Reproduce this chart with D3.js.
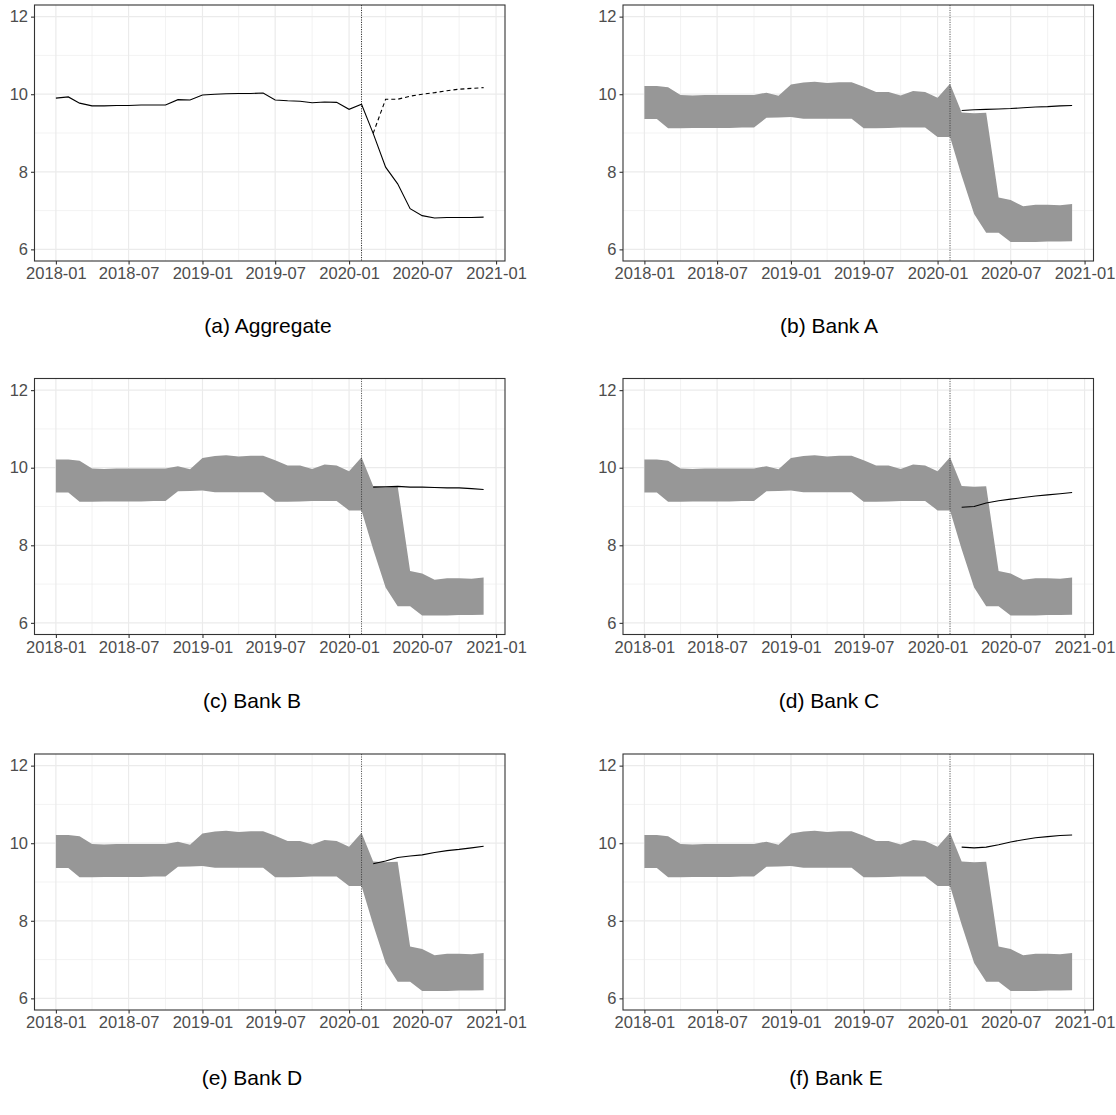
<!DOCTYPE html>
<html>
<head>
<meta charset="utf-8">
<script src="https://cdn.jsdelivr.net/npm/d3@7"></script>
<style>
  body { margin: 0; background: #fff; }
  svg { display: block; }
  text { font-family: "Liberation Sans", Arial, Helvetica, sans-serif; }
</style>
</head>
<body>
<svg id="chart" width="1116" height="1115"></svg>
<script>
// Monthly observation dates
const months = [
  "2018-01","2018-02","2018-03","2018-04","2018-05","2018-06","2018-07","2018-08","2018-09","2018-10","2018-11","2018-12",
  "2019-01","2019-02","2019-03","2019-04","2019-05","2019-06","2019-07","2019-08","2019-09","2019-10","2019-11","2019-12",
  "2020-01","2020-02","2020-03","2020-04","2020-05","2020-06","2020-07","2020-08","2020-09","2020-10","2020-11","2020-12"
];
// Post-shock months (simulated paths)
const postMonths = ["2020-03","2020-04","2020-05","2020-06","2020-07","2020-08","2020-09","2020-10","2020-11","2020-12"];

// Aggregate observed series
const aggregateActual = [
  9.90, 9.93, 9.77, 9.70, 9.70, 9.71, 9.71, 9.72, 9.72, 9.72, 9.86, 9.85,
  9.98, 10.00, 10.01, 10.02, 10.02, 10.03, 9.85, 9.83, 9.82, 9.78, 9.80, 9.79,
  9.61, 9.74, 8.99, 8.12, 7.69, 7.05, 6.87, 6.81, 6.82, 6.82, 6.82, 6.83
];
// Aggregate counterfactual path
const aggregateCounterfactual = [8.99, 9.87, 9.87, 9.95, 10.00, 10.04, 10.09, 10.13, 10.15, 10.17];

// Range across banks (shaded band)
const bandUpper = [
  10.21, 10.21, 10.18, 9.98, 9.97, 9.98, 9.98, 9.98, 9.98, 9.98, 10.04, 9.96,
  10.25, 10.30, 10.32, 10.29, 10.31, 10.31, 10.19, 10.06, 10.06, 9.97, 10.08, 10.06,
  9.91, 10.27, 9.53, 9.51, 9.52, 7.34, 7.27, 7.11, 7.15, 7.15, 7.14, 7.17
];
const bandLower = [
  9.36, 9.36, 9.12, 9.12, 9.13, 9.13, 9.13, 9.13, 9.14, 9.14, 9.39, 9.40,
  9.41, 9.37, 9.37, 9.37, 9.37, 9.37, 9.12, 9.12, 9.13, 9.14, 9.14, 9.14,
  8.90, 8.90, 7.90, 6.91, 6.43, 6.43, 6.19, 6.19, 6.19, 6.20, 6.20, 6.21
];

// Individual bank counterfactual paths
const bankA = [9.58, 9.60, 9.61, 9.62, 9.63, 9.65, 9.67, 9.68, 9.70, 9.71];
const bankB = [9.50, 9.51, 9.52, 9.50, 9.50, 9.49, 9.48, 9.48, 9.46, 9.44];
const bankC = [8.98, 9.00, 9.09, 9.15, 9.19, 9.23, 9.27, 9.30, 9.33, 9.36];
const bankD = [9.47, 9.54, 9.63, 9.67, 9.70, 9.76, 9.81, 9.84, 9.88, 9.92];
const bankE = [9.90, 9.88, 9.90, 9.96, 10.03, 10.09, 10.14, 10.17, 10.20, 10.21];

const shockMonth = "2020-02";
const xTickLabels = ["2018-01","2018-07","2019-01","2019-07","2020-01","2020-07","2021-01"];
const xMinorLabels = ["2017-10","2018-04","2018-10","2019-04","2019-10","2020-04","2020-10","2021-04"];
const yTicks = [6, 8, 10, 12];
const yMinor = [7, 9, 11];
const captions = ["(a) Aggregate", "(b) Bank A", "(c) Bank B", "(d) Bank C", "(e) Bank D", "(f) Bank E"];

const parse = d3.utcParse("%Y-%m");
const svg = d3.select("#chart");

const panelW = 470.5, panelH = 256;
const colX = [34.5, 623];
const rowY = [5, 378.5, 754];
const captionY = [333, 708, 1085];
const captionX = [268, 829, 252, 829, 252, 836];

// x domain: data span with 5% padding on each side
const t0 = parse(months[0]), t1 = parse(months[months.length - 1]);
const pad = (t1 - t0) * 0.05;
const x = d3.scaleUtc().domain([new Date(+t0 - pad), new Date(+t1 + pad)]).range([0, panelW]);
const y = d3.scaleLinear().domain([5.7, 12.3]).range([panelH, 0]);

const line = d3.line().x(d => x(d.date)).y(d => y(d.value));
const area = d3.area().x(d => x(d.date)).y0(d => y(d.lo)).y1(d => y(d.hi));

const aggSeries = months.map((m, i) => ({ date: parse(m), value: aggregateActual[i] }));
const cfSeries = postMonths.map((m, i) => ({ date: parse(m), value: aggregateCounterfactual[i] }));
const bandSeries = months.map((m, i) => ({ date: parse(m), lo: bandLower[i], hi: bandUpper[i] }));
const banks = [bankA, bankB, bankC, bankD, bankE];

function drawPanel(idx) {
  const col = idx % 2, row = Math.floor(idx / 2);
  const g = svg.append("g").attr("transform", `translate(${colX[col]},${rowY[row]})`);

  const clipId = "clip" + idx;
  g.append("clipPath").attr("id", clipId)
    .append("rect").attr("width", panelW).attr("height", panelH);

  const grid = g.append("g").attr("clip-path", `url(#${clipId})`);
  // minor grid
  grid.selectAll(".vmin").data(xMinorLabels).join("line")
    .attr("x1", d => x(parse(d))).attr("x2", d => x(parse(d)))
    .attr("y1", 0).attr("y2", panelH)
    .attr("stroke", "#EBEBEB").attr("stroke-width", 0.6);
  grid.selectAll(".hmin").data(yMinor).join("line")
    .attr("x1", 0).attr("x2", panelW)
    .attr("y1", d => y(d)).attr("y2", d => y(d))
    .attr("stroke", "#EBEBEB").attr("stroke-width", 0.6);
  // major grid
  grid.selectAll(".vmaj").data(xTickLabels).join("line")
    .attr("x1", d => x(parse(d))).attr("x2", d => x(parse(d)))
    .attr("y1", 0).attr("y2", panelH)
    .attr("stroke", "#EBEBEB").attr("stroke-width", 1.2);
  grid.selectAll(".hmaj").data(yTicks).join("line")
    .attr("x1", 0).attr("x2", panelW)
    .attr("y1", d => y(d)).attr("y2", d => y(d))
    .attr("stroke", "#EBEBEB").attr("stroke-width", 1.2);

  const marks = g.append("g").attr("clip-path", `url(#${clipId})`);
  if (idx === 0) {
    marks.append("path").datum(aggSeries).attr("d", line)
      .attr("fill", "none").attr("stroke", "#000").attr("stroke-width", 1.1);
    marks.append("path").datum(cfSeries).attr("d", line)
      .attr("fill", "none").attr("stroke", "#000").attr("stroke-width", 1.1)
      .attr("stroke-dasharray", "4,3");
  } else {
    marks.append("path").datum(bandSeries).attr("d", area)
      .attr("fill", "#979797");
    const s = postMonths.map((m, i) => ({ date: parse(m), value: banks[idx - 1][i] }));
    marks.append("path").datum(s).attr("d", line)
      .attr("fill", "none").attr("stroke", "#000").attr("stroke-width", 1.1);
  }
  // shock date marker
  const xs = x(parse(shockMonth));
  marks.append("line").attr("x1", xs).attr("x2", xs).attr("y1", 0).attr("y2", panelH)
    .attr("stroke", idx === 0 ? "#000" : "#333").attr("stroke-width", 0.8)
    .attr("stroke-dasharray", "1.2,1.2");

  // panel border
  g.append("rect").attr("width", panelW).attr("height", panelH)
    .attr("fill", "none").attr("stroke", "#333").attr("stroke-width", 1.1);

  // axes
  const xAxis = d3.axisBottom(x).tickValues(xTickLabels.map(parse))
    .tickFormat(d3.utcFormat("%Y-%m")).tickSize(3.5).tickPadding(3);
  const gx = g.append("g").attr("transform", `translate(0,${panelH})`).call(xAxis);
  const yAxis = d3.axisLeft(y).tickValues(yTicks).tickFormat(d3.format("d"))
    .tickSize(3.5).tickPadding(3);
  const gy = g.append("g").call(yAxis);
  [gx, gy].forEach(a => {
    a.select(".domain").remove();
    a.selectAll(".tick line").attr("stroke", "#333").attr("stroke-width", 1.1);
    a.selectAll(".tick text").attr("fill", "#4D4D4D").style("font-size", "16.5px");
  });

  svg.append("text")
    .attr("x", captionX[idx]).attr("y", captionY[row])
    .attr("text-anchor", "middle").attr("fill", "#000")
    .style("font-size", "21px").text(captions[idx]);
}

for (let i = 0; i < 6; i++) drawPanel(i);
</script>
</body>
</html>
